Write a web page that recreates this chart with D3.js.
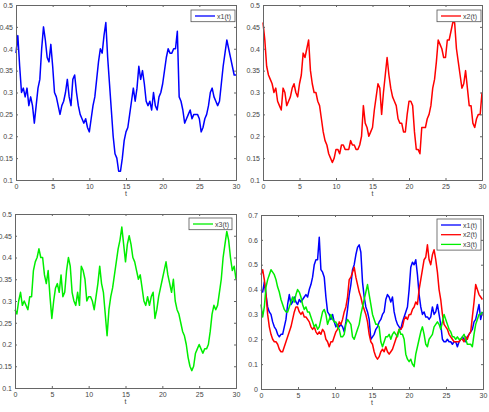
<!DOCTYPE html>
<html lang="en">
<head>
<meta charset="utf-8">
<title>x1 x2 x3 paths</title>
<script src="https://cdn.jsdelivr.net/npm/d3@7"></script>
<style>
  body { margin: 0; background: #fff; }
  .tick text, .lbl, .leg { font-family: "Liberation Sans", Arial, sans-serif; font-size: 7px; fill: #444; }
</style>
</head>
<body>
<div id="chart"></div>
<script>
// time grid: 0..30
var tMax = 30;
var stepSingle = 0.25;     // single-series panels
var stepCombined = 0.2249; // combined panel

var ticksX = [0, 5, 10, 15, 20, 25, 30];
var ticksYSingle = [0.1, 0.15, 0.2, 0.25, 0.3, 0.35, 0.4, 0.45, 0.5];
var ticksYCombined = [0, 0.1, 0.2, 0.3, 0.4, 0.5, 0.6, 0.7];

var names = ["x1(t)", "x2(t)", "x3(t)"];
var colors = ["#0000ff", "#ff0000", "#00ee00"];

// single panels, read every 0.25
var x1 = [0.39,0.43,0.36,0.30,0.31,0.29,0.31,0.27,0.29,0.27,
  0.23,0.27,0.31,0.33,0.40,0.45,0.42,0.38,0.37,0.41,
  0.36,0.30,0.29,0.27,0.25,0.27,0.28,0.30,0.33,0.29,
  0.27,0.33,0.34,0.30,0.27,0.25,0.24,0.23,0.24,0.22,
  0.21,0.24,0.27,0.29,0.33,0.37,0.40,0.39,0.43,0.46,
  0.38,0.32,0.26,0.20,0.16,0.15,0.12,0.12,0.15,0.19,
  0.21,0.22,0.25,0.28,0.31,0.28,0.31,0.36,0.33,0.35,
  0.32,0.28,0.27,0.28,0.26,0.30,0.27,0.26,0.29,0.30,
  0.32,0.35,0.38,0.40,0.39,0.39,0.40,0.40,0.44,0.29,
  0.28,0.26,0.23,0.24,0.25,0.26,0.24,0.25,0.25,0.25,
  0.24,0.21,0.22,0.24,0.25,0.27,0.30,0.31,0.29,0.28,
  0.27,0.28,0.32,0.36,0.39,0.42,0.40,0.38,0.36,0.34,
  0.34];

var x2 = [0.46,0.42,0.36,0.34,0.33,0.32,0.30,0.31,0.28,0.27,
  0.26,0.31,0.30,0.27,0.28,0.29,0.31,0.32,0.30,0.29,
  0.32,0.34,0.39,0.38,0.40,0.42,0.35,0.32,0.30,0.30,
  0.28,0.27,0.24,0.21,0.19,0.18,0.16,0.15,0.14,0.15,
  0.17,0.17,0.16,0.18,0.18,0.17,0.17,0.17,0.19,0.18,
  0.18,0.17,0.17,0.18,0.20,0.27,0.23,0.22,0.20,0.21,
  0.22,0.26,0.29,0.32,0.31,0.25,0.30,0.34,0.38,0.34,
  0.31,0.29,0.28,0.27,0.24,0.23,0.23,0.21,0.21,0.25,
  0.28,0.28,0.27,0.21,0.17,0.17,0.16,0.22,0.22,0.22,
  0.24,0.25,0.27,0.31,0.33,0.37,0.42,0.41,0.40,0.38,
  0.38,0.42,0.42,0.44,0.46,0.46,0.40,0.37,0.34,0.31,
  0.32,0.35,0.31,0.27,0.27,0.23,0.22,0.24,0.25,0.25,
  0.30];

var x3 = [0.28,0.27,0.30,0.32,0.29,0.30,0.29,0.28,0.31,0.31,
  0.37,0.39,0.40,0.42,0.40,0.40,0.36,0.34,0.37,0.31,
  0.26,0.30,0.33,0.34,0.32,0.36,0.31,0.32,0.37,0.40,
  0.38,0.32,0.30,0.29,0.32,0.29,0.38,0.37,0.35,0.30,
  0.31,0.31,0.30,0.28,0.31,0.34,0.38,0.34,0.32,0.27,
  0.22,0.28,0.31,0.33,0.36,0.39,0.42,0.44,0.47,0.43,
  0.39,0.43,0.45,0.43,0.40,0.39,0.37,0.35,0.36,0.33,
  0.30,0.29,0.31,0.29,0.31,0.32,0.26,0.28,0.31,0.33,
  0.35,0.37,0.39,0.36,0.34,0.32,0.35,0.30,0.28,0.27,
  0.25,0.23,0.22,0.20,0.17,0.15,0.14,0.15,0.18,0.19,
  0.20,0.19,0.18,0.19,0.19,0.20,0.23,0.27,0.29,0.28,
  0.29,0.32,0.35,0.40,0.43,0.46,0.44,0.40,0.37,0.38,
  0.35];

// combined panel, read every ~0.225
var cx1 = [0.40,0.39,0.43,0.38,0.33,0.31,0.30,0.27,0.25,0.24,
  0.22,0.21,0.22,0.22,0.25,0.28,0.34,0.38,0.34,0.35,
  0.37,0.35,0.34,0.36,0.35,0.36,0.37,0.38,0.37,0.40,
  0.42,0.45,0.50,0.52,0.52,0.61,0.48,0.47,0.45,0.37,
  0.31,0.30,0.28,0.30,0.27,0.25,0.26,0.25,0.26,0.25,
  0.23,0.27,0.32,0.38,0.42,0.48,0.50,0.54,0.57,0.58,
  0.55,0.43,0.37,0.33,0.31,0.28,0.20,0.21,0.22,0.24,
  0.25,0.27,0.28,0.30,0.31,0.36,0.38,0.37,0.35,0.37,
  0.31,0.28,0.26,0.25,0.24,0.27,0.29,0.31,0.33,0.40,
  0.49,0.51,0.50,0.52,0.46,0.38,0.33,0.30,0.31,0.29,
  0.29,0.28,0.29,0.33,0.30,0.31,0.34,0.30,0.26,0.20,
  0.19,0.19,0.20,0.19,0.19,0.18,0.19,0.19,0.17,0.19,
  0.20,0.21,0.20,0.19,0.21,0.22,0.23,0.24,0.27,0.28,
  0.31,0.34,0.28,0.31];

var cx2 = [0.46,0.48,0.44,0.38,0.30,0.25,0.22,0.20,0.19,0.19,
  0.18,0.16,0.15,0.15,0.17,0.19,0.21,0.23,0.25,0.28,
  0.31,0.33,0.33,0.31,0.30,0.31,0.29,0.29,0.28,0.27,
  0.25,0.24,0.25,0.23,0.22,0.23,0.22,0.24,0.23,0.20,
  0.19,0.17,0.19,0.19,0.21,0.23,0.24,0.27,0.26,0.28,
  0.31,0.33,0.37,0.44,0.45,0.47,0.49,0.45,0.42,0.39,
  0.37,0.34,0.32,0.30,0.27,0.22,0.19,0.18,0.15,0.13,
  0.12,0.13,0.15,0.16,0.15,0.17,0.15,0.14,0.15,0.16,
  0.18,0.20,0.22,0.24,0.24,0.25,0.28,0.29,0.28,0.30,
  0.30,0.32,0.33,0.35,0.34,0.40,0.44,0.48,0.52,0.53,
  0.58,0.52,0.50,0.54,0.56,0.52,0.47,0.40,0.36,0.30,
  0.26,0.25,0.24,0.22,0.21,0.20,0.19,0.19,0.19,0.19,
  0.20,0.20,0.19,0.21,0.20,0.22,0.23,0.29,0.35,0.42,
  0.40,0.38,0.37,0.36];

var cx3 = [0.34,0.29,0.33,0.41,0.44,0.46,0.48,0.47,0.46,0.44,
  0.41,0.39,0.36,0.34,0.32,0.31,0.31,0.33,0.35,0.37,
  0.35,0.38,0.40,0.39,0.37,0.34,0.32,0.33,0.31,0.31,
  0.29,0.27,0.25,0.26,0.24,0.25,0.28,0.31,0.32,0.30,
  0.26,0.28,0.30,0.28,0.27,0.27,0.25,0.24,0.21,0.21,
  0.22,0.26,0.28,0.27,0.26,0.21,0.20,0.22,0.24,0.26,
  0.30,0.33,0.36,0.39,0.42,0.38,0.34,0.30,0.28,0.26,
  0.26,0.25,0.19,0.17,0.19,0.21,0.21,0.22,0.20,0.22,
  0.23,0.22,0.21,0.24,0.22,0.22,0.20,0.14,0.12,0.11,
  0.12,0.10,0.09,0.14,0.17,0.20,0.23,0.25,0.22,0.18,
  0.17,0.20,0.21,0.22,0.25,0.26,0.27,0.26,0.24,0.27,
  0.30,0.28,0.26,0.24,0.23,0.21,0.21,0.20,0.21,0.20,
  0.20,0.21,0.22,0.20,0.18,0.18,0.18,0.17,0.22,0.26,
  0.28,0.30,0.30,0.31];

var w = 489, h = 412;

var svg = d3.select("#chart").append("svg")
  .attr("width", w)
  .attr("height", h);

// panel boxes in page pixels
var panels = [
  { l: 16,  r: 236, t: 5,   b: 180, yTicks: ticksYSingle,   yDom: [0.1, 0.5], series: [0], data: [x1], step: stepSingle, leg: [191, 10, 44] },
  { l: 263, r: 482, t: 5,   b: 180, yTicks: ticksYSingle,   yDom: [0.1, 0.5], series: [1], data: [x2], step: stepSingle, leg: [437, 10, 44] },
  { l: 15,  r: 236, t: 214, b: 388, yTicks: ticksYSingle,   yDom: [0.1, 0.5], series: [2], data: [x3], step: stepSingle, leg: [189, 218, 43] },
  { l: 261, r: 483, t: 215, b: 389, yTicks: ticksYCombined, yDom: [0, 0.7],   series: [0, 1, 2], data: [cx1, cx2, cx3], step: stepCombined, leg: [437, 219, 44] }
];

panels.forEach(function(p) {
  var xScale = d3.scaleLinear().domain([0, tMax]).range([p.l, p.r]);
  var yScale = d3.scaleLinear().domain(p.yDom).range([p.b, p.t]);
  var g = svg.append("g");

  var line = d3.line()
    .x(function(d, i) { return xScale(i * p.step); })
    .y(function(d) { return yScale(d); });

  p.data.forEach(function(vals, k) {
    g.append("path")
      .datum(vals)
      .attr("fill", "none")
      .attr("stroke", colors[p.series[k]])
      .attr("stroke-width", 1.5)
      .attr("stroke-linejoin", "round")
      .attr("d", line);
  });

  // box with inward ticks, matlab style
  var xAxis = d3.axisBottom(xScale).tickValues(ticksX).tickSize(-2).tickPadding(4);
  var xTop = d3.axisTop(xScale).tickValues(ticksX).tickSize(-2).tickFormat("");
  var yAxis = d3.axisLeft(yScale).tickValues(p.yTicks).tickSize(-2).tickPadding(3)
    .tickFormat(function(d) { return d3.format("~g")(d); });
  var yRight = d3.axisRight(yScale).tickValues(p.yTicks).tickSize(-2).tickFormat("");

  [ [xAxis, "translate(0," + p.b + ")"],
    [xTop, "translate(0," + p.t + ")"],
    [yAxis, "translate(" + p.l + ",0)"],
    [yRight, "translate(" + p.r + ",0)"] ].forEach(function(a) {
    var ax = g.append("g").attr("transform", a[1]).call(a[0]);
    ax.select(".domain").attr("stroke", "#666");
    ax.selectAll(".tick line").attr("stroke", "#666");
  });

  g.append("text")
    .attr("class", "lbl")
    .attr("x", (p.l + p.r) / 2)
    .attr("y", p.b + 16)
    .attr("text-anchor", "middle")
    .text("t");

  // legend
  var lx = p.leg[0], ly = p.leg[1], lw = p.leg[2];
  var rowH = 9.7;
  var lh = p.series.length * rowH + 2;
  var leg = g.append("g");
  leg.append("rect")
    .attr("x", lx).attr("y", ly)
    .attr("width", lw).attr("height", lh)
    .attr("fill", "#fff")
    .attr("stroke", "#555")
    .attr("stroke-width", 0.8);
  p.series.forEach(function(s, k) {
    var cy = ly + 6 + k * rowH;
    leg.append("line")
      .attr("x1", lx + 4).attr("x2", lx + 24)
      .attr("y1", cy).attr("y2", cy)
      .attr("stroke", colors[s])
      .attr("stroke-width", 1.3);
    leg.append("text")
      .attr("class", "leg")
      .attr("x", lx + 26)
      .attr("y", cy + 2.5)
      .text(names[s]);
  });
});
</script>
</body>
</html>
